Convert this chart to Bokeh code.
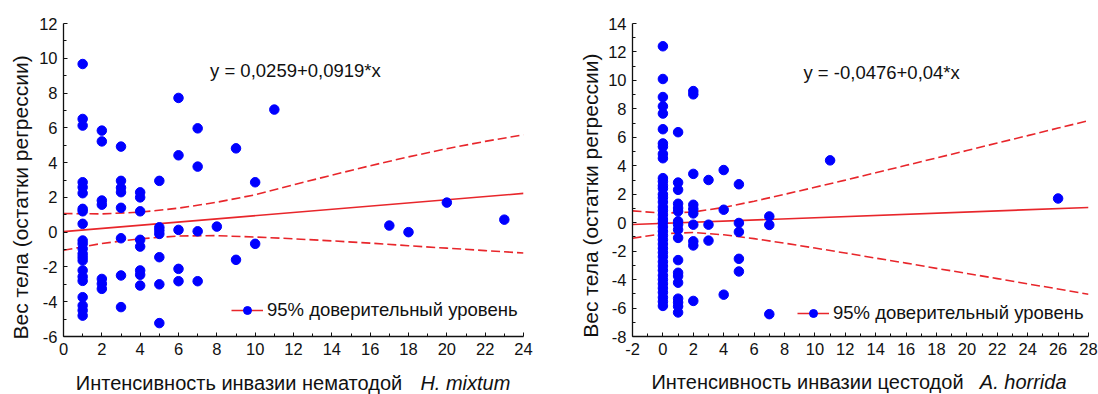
import math
from bokeh.plotting import figure
from bokeh.models import Range1d, FixedTicker, Label, Legend, LegendItem
from bokeh.layouts import row
from bokeh.embed import file_html
from bokeh.resources import INLINE

# ---------------- data: H. mixtum (left) ----------------
mix_x = [1]*22 + [2]*7 + [3]*8 + [4]*8 + [5]*7 + [6]*5 + [7]*4 + [8] + [9]*2 + [10]*2 + [11, 17, 18, 20, 23]
mix_y = [9.67, 6.51, 6.13, 2.87, 2.58, 2.24, 1.34, 1.2, 0.48, -0.48, -0.67, -0.95, -1.24, -1.44, -1.63, -2.2, -2.56, -2.8, -3.74, -4.22, -4.5, -4.8,
         5.84, 5.22, 1.82, 1.58, -2.69, -2.97, -3.26,
         4.92, 2.95, 2.55, 2.3, 1.40, -0.35, -2.49, -4.31,
         2.29, 2.0, 1.2, -0.44, -0.83, -2.2, -2.45, -3.07,
         2.95, 0.28, 0.1, -0.1, -1.44, -3.0, -5.23,
         7.72, 4.42, 0.13, -2.11, -2.82,
         5.97, 3.77, 0.05, -2.82,
         0.32,
         4.82, -1.59,
         2.87, -0.67,
         7.05, 0.38, 0.0, 1.70, 0.72]
mix_fit_x = [0, 24]
mix_fit_y = [0.03, 2.23]
mix_band_x = [0, 2, 4, 6, 8, 10, 12, 14, 16, 18, 20, 22, 24]
mix_band_hi = [1.07, 1.05, 1.15, 1.38, 1.72, 2.15, 2.72, 3.28, 3.82, 4.33, 4.8, 5.22, 5.6]
mix_band_lo = [-1.04, -0.65, -0.38, -0.22, -0.2, -0.28, -0.38, -0.5, -0.63, -0.78, -0.92, -1.06, -1.2]

# ---------------- data: A. horrida (right) ----------------
hor_y0 = [12.4, 10.1, 8.83, 8.18, 7.67, 6.57, 5.57, 5.34, 4.83, 4.53, 3.13, 2.9, 2.6, 2.4, 2.0, 1.75, 1.45, 1.1,
          0.85, 0.55, 0.25, 0.0, -0.3, -0.6, -0.9, -1.2, -1.5, -1.8, -2.1, -2.4, -2.75, -3.05, -3.35, -3.7,
          -4.0, -4.3, -4.6, -4.9, -5.25, -5.55, -5.85]
hor_y1 = [6.36, 2.82, 2.31, 1.33, 1.03, 0.8, 0.1, -0.13, -0.49, -1.07, -2.63, -3.52, -3.75, -4.22, -5.34, -5.6, -5.88, -6.31]
hor_y2 = [9.25, 9.02, 3.43, 1.26, 0.96, 0.65, -0.14, -1.31, -1.6, -5.5]
hor_y3 = [3.0, -0.14, -1.26]
hor_y4 = [3.7, 0.91, -5.06]
hor_y5 = [2.7, -0.02, -0.65, -2.54, -3.43]
hor_y7 = [0.44, -0.16, -6.43]
hor_x = [0]*len(hor_y0) + [1]*len(hor_y1) + [2]*len(hor_y2) + [3]*len(hor_y3) + [4]*len(hor_y4) + [5]*len(hor_y5) + [7]*len(hor_y7) + [11, 26]
hor_y = hor_y0 + hor_y1 + hor_y2 + hor_y3 + hor_y4 + hor_y5 + hor_y7 + [4.38, 1.7]
hor_fit_x = [-2, 28]
hor_fit_y = [-0.13, 1.07]
hor_band_x = [-2, 0, 2, 4, 6, 8, 10, 12, 14, 16, 18, 20, 22, 24, 26, 28]
hor_band_hi = [0.83, 0.67, 0.75, 1.07, 1.51, 1.99, 2.49, 2.99, 3.51, 4.03, 4.55, 5.07, 5.6, 6.12, 6.65, 7.17]
hor_band_lo = [-1.09, -0.77, -0.69, -0.85, -1.12, -1.44, -1.78, -2.13, -2.49, -2.84, -3.21, -3.57, -3.93, -4.3, -4.66, -5.03]

legend_text = "95% доверительный уровень"
ylabel = "Вес тела (остатки регрессии)"

FONT = "Liberation Sans"
RED = "#e8262b"
BLUE = "#0000ff"


def make(xr, yr, xticks, yticks, width, border_l, border_r, border_b,
         px, py, fx, fy, bx, bhi, blo, eq, eq_pos, xl_reg, xl_it, xl_pos, yl_pos, leg_loc):
    p = figure(width=width, height=394, x_range=Range1d(*xr), y_range=Range1d(*yr),
               output_backend="svg", toolbar_location=None,
               min_border_left=border_l, min_border_right=border_r,
               min_border_top=23, min_border_bottom=border_b)
    p.outline_line_color = None
    p.grid.visible = False
    p.background_fill_color = "white"
    p.border_fill_color = "white"
    p.xaxis.ticker = FixedTicker(ticks=xticks, minor_ticks=[t + 1 for t in xticks[:-1]])
    p.yaxis.ticker = FixedTicker(ticks=yticks, minor_ticks=[t + 1 for t in yticks[:-1]])
    p.xaxis.major_label_overrides = {t: str(t) for t in xticks}
    p.yaxis.major_label_overrides = {t: str(t) for t in yticks}
    for ax in (p.xaxis, p.yaxis):
        ax.axis_line_color = "#111111"
        ax.axis_line_width = 1.3
        ax.major_tick_line_color = "#111111"
        ax.minor_tick_line_color = "#111111"
        ax.major_tick_in = 4
        ax.major_tick_out = 0
        ax.minor_tick_in = 3
        ax.minor_tick_out = 0
        ax.major_label_text_font = FONT
        ax.major_label_text_font_size = "16.5px"
        ax.major_label_text_color = "#111111"
        ax.major_label_standoff = 6

    p.line(bx, bhi, line_color=RED, line_width=1.6, line_dash="9 4")
    p.line(bx, blo, line_color=RED, line_width=1.6, line_dash="9 4")
    fit = p.line(fx, fy, line_color=RED, line_width=1.6)
    sc = p.scatter(px, py, size=9.5, fill_color=BLUE, line_color=BLUE)

    p.add_layout(Label(x=eq_pos[0], y=eq_pos[1], text=eq, text_font=FONT, text_font_size="18.5px",
                       text_align="center", text_baseline="middle", text_color="#111111"))
    # texts outside the frame live in side panels so they are not clipped
    p.add_layout(Label(x=xl_pos[0], y=xl_pos[2], text=xl_reg, text_font=FONT, text_font_size="20px",
                       text_align="right", text_baseline="middle", text_color="#111111"), "below")
    p.add_layout(Label(x=xl_pos[1], y=xl_pos[2], text=xl_it, text_font=FONT, text_font_size="20px",
                       text_font_style="italic",
                       text_align="left", text_baseline="middle", text_color="#111111"), "above")
    p.add_layout(Label(x=yl_pos[0], y=yl_pos[1], text=ylabel, text_font=FONT, text_font_size="21px",
                       angle=math.pi / 2, text_align="center", text_baseline="middle", text_color="#111111"),
                 "left")

    leg = Legend(items=[LegendItem(label=legend_text, renderers=[fit, sc])], location=leg_loc,
                 background_fill_alpha=0, border_line_alpha=0, padding=0, margin=0, spacing=0,
                 glyph_width=32, glyph_height=20, label_height=20, label_standoff=4,
                 label_text_font=FONT, label_text_font_size="18.5px", label_text_color="#111111")
    p.add_layout(leg)
    return p


p1 = make((0, 24), (-6, 12), list(range(0, 25, 2)), list(range(-6, 13, 2)), 560, 63, 37, 58,
          mix_x, mix_y, mix_fit_x, mix_fit_y, mix_band_x, mix_band_hi, mix_band_lo,
          "y = 0,0259+0,0919*x", (12.1, 9.29),
          "Интенсивность инвазии нематодой", "H. mixtum", (17.67, 18.62, -8.70),
          (-2.24, 2.0), (168, 15))
p2 = make((-2, 28), (-8, 14), list(range(-2, 29, 2)), list(range(-8, 15, 2)), 538, 72, 10, 57,
          hor_x, hor_y, hor_fit_x, hor_fit_y, hor_band_x, hor_band_hi, hor_band_lo,
          "y = -0,0476+0,04*x", (14.39, 10.56),
          "Интенсивность инвазии цестодой", "A. horrida", (19.78, 20.85, -11.22),
          (-4.79, 1.9), (165, 12))

layout = row(p1, p2)
open("out.html", "w").write(file_html(layout, INLINE))
